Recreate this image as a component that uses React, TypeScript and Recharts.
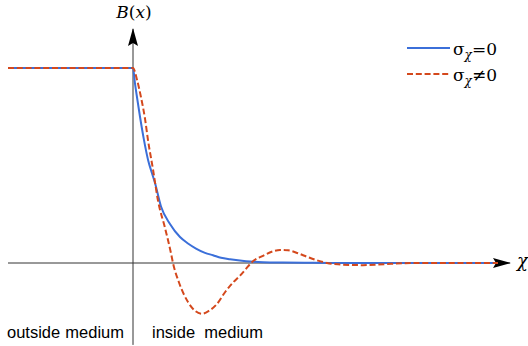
import { LineChart, Line, XAxis, YAxis, ReferenceLine } from "recharts";

// horizontal position, measured from the boundary (x = 0)
const outsideX = [-125, 0];
const outsideB = [1, 1];

// sigma_chi = 0 : plain decay inside the medium
const smoothX = [0, 2, 4, 7, 11, 15, 19, 22, 28, 37, 47, 55, 63, 72, 80, 88, 97, 113, 130, 150, 180, 220, 365];
const smoothB = [1, 0.92, 0.85, 0.75, 0.63, 0.53, 0.46, 0.41, 0.29, 0.2, 0.133, 0.1, 0.074, 0.052, 0.04, 0.027, 0.019, 0.009, 0.004, 0.002, 0.001, 0, 0];

// sigma_chi != 0 : damped oscillation
const waveX = [0, 4, 8, 12, 15, 20, 25, 32, 38, 40, 46, 55, 62, 69, 76, 84, 92, 100, 107, 113, 118, 130, 140, 147, 155, 165, 175, 185, 194, 205, 218, 230, 245, 258, 270, 285, 365];
const waveB = [1, 0.94, 0.85, 0.74, 0.63, 0.48, 0.32, 0.18, 0.05, 0, -0.1, -0.2, -0.245, -0.26, -0.245, -0.21, -0.15, -0.1, -0.065, -0.03, 0, 0.037, 0.06, 0.067, 0.065, 0.05, 0.03, 0.012, 0, -0.007, -0.01, -0.011, -0.008, -0.004, -0.001, 0, 0];

const legendLabels = ["=0", "≠0"];
const regionLabels = ["outside", "medium", "inside", "medium"];

const BLUE = "#3b6fd9";
const RED = "#d4481c";
const AXIS = "#333";

const toRows = (xs: number[], ys: number[]) => xs.map((x, i) => ({ x, b: ys[i] }));
const blueData = [...toRows(outsideX, outsideB), ...toRows(smoothX, smoothB).slice(1)];
const redData = [...toRows(outsideX, outsideB), ...toRows(waveX, waveB).slice(1)];

const SERIF = "DejaVu Serif";
const SANS = "Liberation Sans";

export default function App() {
  return (
    <div style={{ position: "absolute", left: 0, top: 0 }}>
      <LineChart width={528} height={346} margin={{ top: 19.25, right: 15, bottom: 1.1, left: 8 }}>
        <defs>
          <marker id="arrow" viewBox="0 0 18 10" refX="17" refY="5" markerWidth="18" markerHeight="10"
            markerUnits="userSpaceOnUse" orient="auto">
            <path d="M0,0 L18,5 L0,10 L3,5 Z" fill="#000" />
          </marker>
        </defs>
        <XAxis type="number" dataKey="x" domain={[-125, 380]} hide allowDataOverflow />
        <YAxis type="number" domain={[-0.42, 1.25]} hide allowDataOverflow />
        <ReferenceLine segment={[{ x: -125, y: 0 }, { x: 377, y: 0 }]} stroke={AXIS} strokeWidth={1}
          markerEnd="url(#arrow)" ifOverflow="visible" />
        <ReferenceLine segment={[{ x: 0, y: -0.42 }, { x: 0, y: 1.2 }]} stroke={AXIS} strokeWidth={1}
          markerEnd="url(#arrow)" ifOverflow="visible" />
        <Line data={blueData} dataKey="b" type="monotone" stroke={BLUE} strokeWidth={2} dot={false}
          isAnimationActive={false} />
        <Line data={redData} dataKey="b" type="monotone" stroke={RED} strokeWidth={2} strokeDasharray="6 2.8"
          dot={false} isAnimationActive={false} />

        <text x={134} y={18} textAnchor="middle" fontFamily={SERIF} fontSize={17}>
          <tspan fontStyle="italic">B</tspan>(<tspan fontStyle="italic">x</tspan>)
        </text>
        <text x={517} y={267} fontFamily={SERIF} fontSize={18} fontStyle="italic">χ</text>

        <line x1={407} y1={48} x2={450} y2={48} stroke={BLUE} strokeWidth={2} />
        <text x={453} y={55} fontFamily={SERIF} fontSize={17}>
          σ<tspan fontSize={12} fontStyle="italic" dy={4}>χ</tspan><tspan dy={-4}>{legendLabels[0]}</tspan>
        </text>
        <line x1={407} y1={74} x2={450} y2={74} stroke={RED} strokeWidth={2} strokeDasharray="6 2.8" />
        <text x={453} y={81} fontFamily={SERIF} fontSize={17}>
          σ<tspan fontSize={12} fontStyle="italic" dy={4}>χ</tspan><tspan dy={-4}>{legendLabels[1]}</tspan>
        </text>

        <text x={7} y={338} fontFamily={SANS} fontSize={16.5}>{regionLabels[0]}</text>
        <text x={124} y={338} textAnchor="end" fontFamily={SANS} fontSize={16.5}>{regionLabels[1]}</text>
        <text x={152} y={338} fontFamily={SANS} fontSize={16.5}>{regionLabels[2]}</text>
        <text x={263} y={338} textAnchor="end" fontFamily={SANS} fontSize={16.5}>{regionLabels[3]}</text>
      </LineChart>
    </div>
  );
}
